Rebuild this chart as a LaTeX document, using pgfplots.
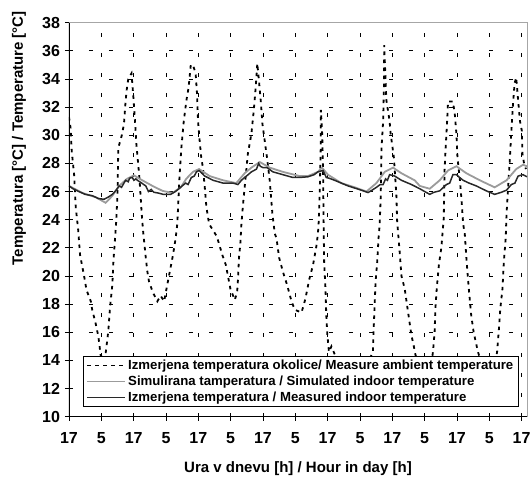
\documentclass[border=0pt]{standalone}
\usepackage{fontspec}
\setmainfont{Liberation Sans}
\usepackage{pgfplots}
\pgfplotsset{compat=1.18}
\definecolor{simgray}{RGB}{155,155,155}
\definecolor{measdark}{RGB}{40,40,40}
\begin{document}
\begin{tikzpicture}
\useasboundingbox (-69pt,-63.3pt) rectangle (462pt,416.7pt);
\begin{axis}[
  at={(0,0)}, anchor=south west,
  scale only axis, width=458pt, height=394pt,
  xmin=0, xmax=170, ymin=10, ymax=38,
  xtick={0,12,...,168},
  xticklabels={17,5,17,5,17,5,17,5,17,5,17,5,17,5,17},
  ytick={10,12,...,38},
  tick pos=left, tick align=outside, major tick length=4pt,
  tick style={black, line width=0.8pt},
  grid=major,
  major grid style={black, line width=0.8pt, dash pattern=on 4pt off 16pt},
  axis line style={draw=gray!70, line width=0.8pt},
  /pgf/number format/assume math mode=true,
  tick label style={font=\fontsize{16}{18}\selectfont\bfseries},
  yticklabel style={xshift=-1.5pt},
  xticklabel style={yshift=-8pt},
  xlabel={Ura v dnevu [h] / Hour in day [h]},
  ylabel={Temperatura [°C] / Temperature [°C]},
  label style={font=\fontsize{15}{17}\selectfont\bfseries},
  xlabel style={at={(axis description cs:0.5,0)}, anchor=center, yshift=-52pt},
  ylabel style={at={(axis description cs:-0.109,0.707)}, anchor=center},
  legend style={at={(axis description cs:0.0306,0.154)}, anchor=north west,
    draw=black, line width=0.8pt, fill=white,
    font=\fontsize{13.2}{15}\selectfont\bfseries,
    inner xsep=3pt, inner ysep=1.5pt, row sep=1pt},
  legend cell align=left,
  legend image code/.code={\draw[#1] (0pt,0pt) -- (38pt,0pt);},
]
\addplot[black, line width=1.8pt, dash pattern=on 3.5pt off 4.5pt] coordinates {
(0,31.3)(0.6,30.5)(1.0,28.9)(1.9,27.2)(2.5,24.9)(3.4,23.3)(4.1,21.5)(5.6,20.0)(6.5,19.0)(8.1,18.2)(8.7,17.5)(9.7,16.8)(10.9,15.7)(11.8,14.3)(13.6,14.5)(14.6,16.1)(15.2,17.7)(16.1,19.4)(16.5,21.1)(17.1,22.7)(17.5,23.8)(18.0,25.8)(18.3,29.1)(19.6,30.0)(20.4,30.8)(21.0,32.4)(21.4,33.2)(22.0,34.0)(23.2,34.4)(23.9,32.7)(24.5,31.0)(25.0,29.4)(25.8,27.7)(26.2,26.8)(27.0,24.4)(27.5,23.2)(28.5,21.3)(29.1,20.3)(29.7,19.6)(31.2,18.8)(32.8,18.2)(34.0,18.6)(35.3,18.2)(36.5,19.4)(37.7,20.6)(38.6,21.5)(39.6,22.7)(40.2,23.7)(41.0,27.0)(41.7,29.1)(42.6,31.0)(43.6,32.5)(44.4,33.4)(45.2,35.0)(46.0,35.0)(47.0,34.4)(47.5,33.0)(47.9,31.0)(48.5,29.6)(49.1,28.4)(49.7,27.7)(50.4,26.3)(51.0,24.9)(52.0,23.7)(54.9,22.8)(56.9,21.5)(58.2,20.8)(59.0,20.0)(59.9,19.1)(61.5,18.3)(62.4,18.8)(62.7,19.7)(63.1,21.3)(63.6,22.3)(64.0,23.7)(64.6,25.1)(66.4,28.7)(67.7,30.1)(68.6,31.8)(69.3,33.4)(69.9,35.1)(70.4,34.1)(71.2,32.4)(71.8,30.8)(73.5,28.4)(74.5,26.8)(75.5,24.4)(76.4,23.0)(77.0,22.7)(78.0,21.3)(79.4,20.3)(80.9,19.4)(82.6,18.2)(83.8,17.6)(86.3,17.4)(87.5,18.2)(88.3,18.9)(89.1,19.7)(90.6,20.8)(91.8,22.1)(92.4,23.0)(92.7,23.9)(93.1,26.3)(93.4,28.7)(93.5,31.8)(94.0,30.0)(94.3,27.5)(94.5,23.9)(94.7,21.0)(95.2,19.1)(95.5,17.2)(95.9,15.8)(96.5,14.6)(97.4,15.0)(98.9,14.3)(102,13.2)(106,12.6)(110,13.4)(112.8,14.6)(113.1,16.3)(113.5,18.2)(113.8,19.6)(114.4,21.0)(114.9,22.7)(115.3,23.6)(115.7,25.6)(116.0,29.1)(116.6,31.0)(116.9,33.4)(117.0,36.4)(117.5,33.9)(117.8,32.5)(119.0,31.0)(119.4,30.1)(119.9,29.4)(120.6,28.4)(121.5,25.8)(121.8,23.9)(122.7,21.8)(123.4,20.0)(124.6,19.1)(125.8,17.5)(127.1,15.8)(128.1,14.9)(128.6,14.4)(130,13.5)(132,13.2)(134.5,13.8)(135.1,14.6)(135.7,16.0)(136.0,17.7)(136.5,19.1)(137.3,20.8)(138.2,22.0)(138.8,23.4)(139.1,24.1)(139.4,27.5)(139.8,29.1)(140.3,30.8)(140.7,32.4)(142.5,32.4)(143.2,31.5)(143.8,30.1)(144.2,28.4)(145.1,26.8)(145.7,25.4)(146.3,23.7)(146.9,23.0)(147.6,21.0)(148.4,19.1)(149.3,17.2)(150.2,16.0)(151.8,14.6)(154,13.3)(156,13.0)(158,13.6)(158.9,14.6)(159.6,16.3)(160.1,17.7)(160.9,19.1)(161.4,21.0)(162.1,22.7)(162.4,24.4)(163.0,26.3)(163.6,28.2)(164.2,30.3)(164.8,32.2)(165.4,33.7)(166.0,34.1)(166.7,32.5)(167.4,31.0)(168.1,30.3)(168.3,28.7)(168.9,28.0)(169.6,27.6)
};
\addlegendentry{Izmerjena temperatura okolice/ Measure ambient temperature}
\addplot[simgray, line width=1.8pt] coordinates {
(0,26.4)(5.0,25.9)(9.9,25.6)(13.6,25.2)(16.1,25.7)(18.6,26.4)(21.5,26.9)(24.1,27.15)(27.2,26.8)(31,26.4)(34.7,26.05)(38.4,25.9)(41.5,26.3)(43.5,26.9)(46.0,27.4)(48.3,27.6)(52.2,27.1)(57.2,26.8)(62.1,26.6)(65.2,27.3)(67.7,27.7)(70.8,28.1)(74.5,27.7)(79.4,27.4)(85.6,27.1)(88.7,27.1)(92.4,27.4)(93.9,27.7)(96.1,27.2)(101.1,26.6)(106.1,26.3)(110.4,26.0)(114.1,26.6)(117.2,27.4)(120.3,27.7)(123.4,27.3)(128.3,26.8)(130.2,26.4)(133.9,26.2)(137.6,26.8)(140.7,27.5)(143.8,27.8)(147.5,27.3)(152.5,26.8)(158.0,26.3)(162.4,26.8)(166.0,27.6)(168.5,27.9)(170,27.8)
};
\addlegendentry{Simulirana tamperatura / Simulated indoor temperature}
\addplot[measdark, line width=1.5pt] coordinates {
(0,26.4)(1.5,26.2)(3.7,26.0)(6,25.8)(8.7,25.7)(11,25.5)(13.0,25.45)(14.5,25.6)(16.1,25.8)(17.5,26.1)(18.6,26.4)(19.5,26.3)(21.0,26.8)(22.0,26.7)(22.5,26.95)(23.5,27.0)(24.1,26.8)(24.8,26.9)(25.4,26.8)(27,26.6)(28.5,26.4)(29.5,26.0)(30.5,26.15)(31.5,25.95)(33,25.9)(35,25.8)(37.7,25.8)(39.5,26.0)(40.8,26.2)(42,26.4)(43.3,26.6)(44.2,26.5)(45.4,27.0)(46.5,27.1)(47.3,27.4)(48.3,27.5)(49.3,27.3)(50.4,27.1)(53.5,26.8)(57.2,26.6)(60.9,26.6)(62.7,26.5)(64,26.8)(65.2,27.0)(66.5,27.2)(67.7,27.4)(68.7,27.5)(69.6,27.6)(70.4,28.0)(71.0,27.8)(72.0,27.7)(73.5,27.7)(75.7,27.4)(79.4,27.2)(83.1,27.0)(85.6,27.0)(88.7,27.05)(91,27.2)(92.4,27.4)(94.3,27.5)(95.5,27.0)(96.5,26.95)(98.6,26.8)(103.6,26.4)(108.5,26.1)(111.0,25.93)(112.5,26.1)(114.1,26.3)(115.5,26.5)(116.6,26.5)(117.5,26.9)(118.2,26.8)(119.0,27.2)(120.9,27.1)(123.4,26.8)(127.1,26.5)(130.2,26.2)(133.9,25.8)(135.5,25.95)(137.6,26.05)(140.1,26.5)(141.3,26.6)(142.5,27.2)(143.8,27.2)(145,27.0)(146.3,26.8)(148.5,26.6)(151.2,26.4)(154.9,26.05)(158.0,25.8)(160.5,25.95)(162.4,26.1)(164.2,26.5)(165.5,26.6)(166.7,27.1)(168.5,27.2)(170,27.05)
};
\addlegendentry{Izmerjena temperatura / Measured indoor temperature}
\draw[black, line width=1.3pt] (rel axis cs:0,1) -- (rel axis cs:0,0) -- (rel axis cs:1,0);
\end{axis}
\end{tikzpicture}
\end{document}
